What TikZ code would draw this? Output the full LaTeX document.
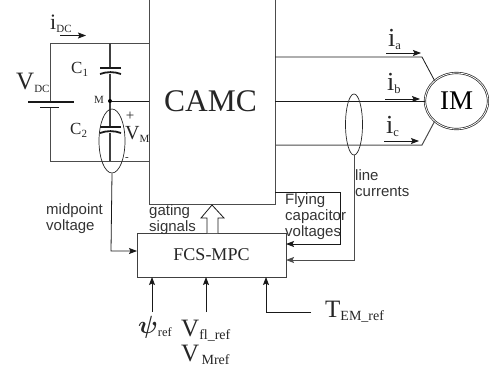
\documentclass[tikz,border=0pt]{standalone}
\usepackage{fontspec}
\setmainfont{Liberation Serif}
\newfontfamily\lblsans{Liberation Sans}
\usetikzlibrary{arrows.meta,shapes.geometric}

\newcommand{\symb}[4][12.5]{{\fontsize{#4}{#4}\selectfont #2}{\fontsize{#1}{#1}\selectfont\raisebox{-3.5pt}{#3}}}

\begin{document}
\begin{tikzpicture}[
        x=1pt, y=-1pt,
        >={Stealth[length=8pt, width=6pt, inset=1.5pt]},
        wire/.style={line width=1pt, black!70},
        thinwire/.style={line width=.8pt, black!90},
        plate/.style={line width=1.8pt, black!90},
        loopring/.style={ellipse, draw=black!85, line width=.7pt, minimum width=#1, inner sep=0pt},
        sans/.style={font=\lblsans\fontsize{15}{17}\selectfont, black!80, align=left, inner sep=0pt, anchor=north west},
        lbl/.style={inner sep=0pt, black!85},
        arrowin/.style={->, thinwire}
        ]
            \useasboundingbox (0, 0) rectangle (489, 372);

            % converter and controller
            \coordinate (camcTL) at (149, -2);
            \coordinate (camcBR) at (275, 204);
            \draw[wire] (camcTL) rectangle (camcBR);
            \node[font=\fontsize{31.5}{32}\selectfont, lbl] (camc) at (210.5, 101) {CAMC};
            \node[draw=black!75, line width=1pt, minimum width=149pt, minimum height=44pt, inner sep=0pt,
                font=\fontsize{18}{20}\selectfont, text=black!85] (mpc) at (211.5, 255) {FCS-MPC};

            % dc side
            \coordinate (busTL) at (50, 43);
            \coordinate (busTM) at (110, 43);
            \coordinate (busTR) at (149, 43);
            \coordinate (busBL) at (50, 161);
            \coordinate (busBM) at (110, 161);
            \coordinate (busBR) at (149, 161);
            \coordinate (midR) at (149, 101);
            \coordinate (batP) at (50, 102);
            \coordinate (batN) at (50, 107.5);
            \coordinate (capAt) at (110, 68);
            \coordinate (capAb) at (110, 74);
            \coordinate (capBt) at (110, 127);
            \coordinate (capBb) at (110, 133);
            \draw[wire] (batP) -- (busTL) -- (busTR);
            \draw[wire] (batN) -- (busBL) -- (busBR);
            \draw[plate] (28, 102) -- (74, 102);
            \draw[plate] (40, 107.5) -- (59, 107.5);
            \draw[plate, black!75] (busTM) -- (capAt);
            \draw[plate] (100, 68) -- (121, 68);
            \draw[plate] (100, 74) .. controls (107, 71.5) and (114, 71.5) .. (121, 74);
            \draw[plate, black!75] (capAb) -- (capBt);
            \draw[plate] (100, 127) -- (121, 127);
            \draw[plate] (100, 133) .. controls (107, 130.5) and (114, 130.5) .. (121, 133);
            \draw[plate, black!75] (capBb) -- (busBM);
            \node[circle, fill=black, inner sep=0pt, minimum size=4pt] (midpt) at (110, 101) {};
            \draw[thinwire] (midpt) -- (midR);
            \node[loopring=26pt, minimum height=64pt] (ringV) at (112, 141) {};

            \node[lbl, anchor=base west] (idc) at (50, 29) {\symb[11]{i}{DC}{22}};
            \coordinate (idcA) at (60, 35.5);
            \coordinate (idcB) at (86, 35.5);
            \draw[arrowin] (idcA) -- (idcB);
            \node[lbl, anchor=base west] (vdc) at (16, 89) {\symb[11]{V}{DC}{25}};
            \node[lbl, anchor=base west] (c1) at (71, 73) {\symb[11]{C}{1}{17}};
            \node[lbl, anchor=base west] (c2) at (70, 134) {\symb[11]{C}{2}{17}};
            \node[lbl, anchor=base, font=\fontsize{11}{11}\selectfont] (mlbl) at (99, 103) {M};
            \node[lbl, anchor=base, font=\fontsize{15}{15}\selectfont] (plus) at (130, 120) {+};
            \node[lbl, anchor=base west] (vm) at (125, 139) {\symb[11]{V}{M}{20}};
            \node[lbl, anchor=base, font=\fontsize{11}{11}\selectfont] (minus) at (127, 160) {-};

            % motor side
            \coordinate (lineAl) at (275, 57);
            \coordinate (lineAr) at (422, 57);
            \coordinate (lineBl) at (275, 101);
            \coordinate (lineCl) at (275, 145);
            \coordinate (lineCr) at (422, 145);
            \node[ellipse, draw=black!85, double, double distance=.8pt, line width=.7pt, minimum width=63pt,
                minimum height=56pt, inner sep=0pt, font=\fontsize{27}{27}\selectfont] (motor) at (456.5, 101) {IM};
            \draw[thinwire] (lineAl) -- (lineAr) -- (motor.137);
            \draw[thinwire] (lineBl) -- (motor.west);
            \draw[wire] (lineCl) -- (lineCr) -- (motor.223);

            \node[lbl, anchor=base west] (ia) at (388, 46) {\symb{i}{a}{26}};
            \node[lbl, anchor=base west] (ib) at (387, 90) {\symb{i}{b}{26}};
            \node[lbl, anchor=base west] (ic) at (386, 133) {\symb{i}{c}{26}};
            \coordinate (iaA) at (386, 53);
            \coordinate (iaB) at (421, 53);
            \coordinate (ibA) at (385, 99);
            \coordinate (ibB) at (420, 99);
            \coordinate (icA) at (384, 141);
            \coordinate (icB) at (419, 141);
            \draw[arrowin] (iaA) -- (iaB);
            \draw[arrowin] (ibA) -- (ibB);
            \draw[arrowin] (icA) -- (icB);
            \node[loopring=17pt, minimum height=61pt] (ringI) at (354, 124.5) {};
            \node[sans] (linecur) at (355, 169) {line\\[-1pt]currents};

            % feedback
            \coordinate (flyA) at (275, 192);
            \coordinate (flyB) at (340, 192);
            \coordinate (flyC) at (340, 244);
            \coordinate (flyD) at (286, 244);
            \draw[->, thinwire] (flyA) -- (flyB) -- (flyC) -- (flyD);
            \coordinate (curB) at (354, 260);
            \coordinate (curC) at (286, 260);
            \draw[->, wire] (ringI.south) -- (curB) -- (curC);
            \coordinate (midB) at (111, 251);
            \coordinate (midC) at (137, 251);
            \draw[->, thinwire] (ringV.south) -- (midB) -- (midC);
            \node[sans] (midlbl) at (46, 203) {midpoint\\[-1pt]voltage};
            \node[sans] (gatlbl) at (149, 204) {gating\\[-1pt]signals};
            \node[sans] (flylbl) at (285, 193) {Flying\\[-1pt]capacitor\\[-1pt]voltages};

            % gating arrow
            \draw[thinwire, fill=white] (207, 233) -- (207, 218) -- (201, 218) -- (212, 205)
                -- (224, 218) -- (218, 218) -- (218, 233);

            % references
            \coordinate (psiA) at (152, 312);
            \coordinate (psiB) at (152, 277);
            \coordinate (flA) at (206, 312);
            \coordinate (flB) at (206, 277);
            \coordinate (temC) at (311, 312);
            \coordinate (temA) at (266, 312);
            \coordinate (temB) at (266, 277);
            \draw[->, thinwire] (psiA) -- (psiB);
            \draw[->, thinwire] (flA) -- (flB);
            \draw[->, thinwire] (temC) -- (temA) -- (temB);
            \node[lbl, anchor=base west] (psi) at (138, 333) {\symb{\boldmath$\psi$}{ref}{24}};
            \node[lbl, anchor=base west] (vfl) at (181, 336) {\symb[14]{V}{fl\_ref}{25}};
            \node[lbl, anchor=base west] (vmr) at (181, 361) {\symb[14]{V}{\,Mref}{25}};
            \node[lbl, anchor=base west] (tem) at (325, 317) {\symb[14]{T}{EM\_ref}{25}};
        \end{tikzpicture}
\end{document}
